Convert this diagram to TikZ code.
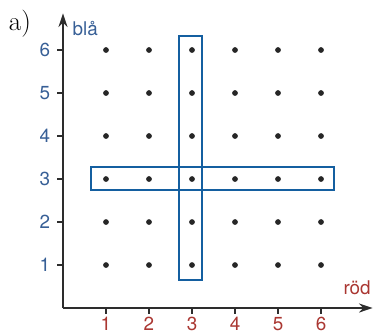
\documentclass[tikz,border=0pt]{standalone}
\usepackage{fontspec}
\newfontfamily\axisfont{TeX Gyre Heros}
\usepackage{xcolor}
\usetikzlibrary{arrows.meta,positioning}
\definecolor{bandblue}{RGB}{20,95,160}
\definecolor{ylab}{RGB}{55,95,150}
\definecolor{xlab}{RGB}{170,55,50}
\definecolor{axisgray}{RGB}{45,45,45}

\begin{document}
\begin{tikzpicture}[
    axis/.style={draw=axisgray, line width=1.1pt, -{Stealth[length=9pt,width=6pt]}},
    tick/.style={draw=axisgray, line width=0.8pt},
    ylabel/.style={font=\axisfont\fontsize{12.5}{14}\selectfont, text=ylab, anchor=east, inner sep=2pt},
    xlabel/.style={font=\axisfont\fontsize{12.5}{14}\selectfont, text=xlab, anchor=north, inner sep=2pt},
    dot/.style={circle, fill=black!85, inner sep=0pt, minimum size=3.8pt},
    band/.style={draw=bandblue, line width=1pt}
]
\useasboundingbox (-1.465,-0.628) rectangle (7.209,7.163);

\coordinate (O) at (0,0);
\coordinate (xend) at (7.2,0);
\coordinate (yend) at (0,6.85);

\draw[axis] (O) -- (xend);
\draw[axis] (O) -- (yend);

\node[font=\fontsize{18}{20}\selectfont] (part) at (-1.0,6.62) {a)};
\node[font=\axisfont\fontsize{12.5}{14}\selectfont, text=ylab, anchor=west] (ytitle) at (0.1,6.5) {blå};
\node[font=\axisfont\fontsize{12.5}{14}\selectfont, text=xlab] (xtitle) at (6.84,0.48) {röd};

% ticks and numbers
\foreach \i in {1,...,6} {
    \draw[tick] (\i,0) -- (\i,-0.13);
    \node[xlabel] (x\i) at (\i,-0.14) {\i};
    \draw[tick] (0,\i) -- (-0.13,\i);
    \node[ylabel] (y\i) at (-0.22,\i) {\i};
}

% dot grid
\foreach \i in {1,...,6}
    \foreach \j in {1,...,6}
        \node[dot] (p\i\j) at (\i,\j) {};

% selected row and column
\draw[band] (0.65,2.74) rectangle (6.3,3.28);
\draw[band] (2.7,0.65) rectangle (3.23,6.33);
\end{tikzpicture}
\end{document}
